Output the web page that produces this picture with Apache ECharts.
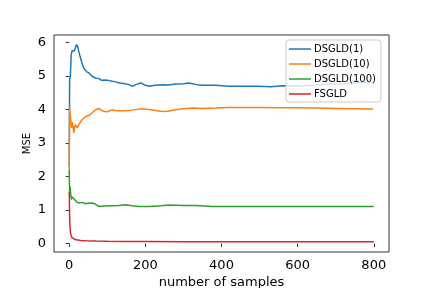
<!DOCTYPE html>
<html>
<head>
<meta charset="utf-8">
<script src="https://cdn.jsdelivr.net/npm/echarts@6/dist/echarts.min.js"></script>
<style>html,body{margin:0;padding:0;background:#fff}#c{width:432px;height:288px}</style>
</head>
<body>
<div id="c"></div>
<script>
var seriesNames = ['DSGLD(1)', 'DSGLD(10)', 'DSGLD(100)', 'FSGLD'];
var colors = ['#1f77b4', '#ff7f0e', '#2ca02c', '#d62728'];
var xTicks = [0, 200, 400, 600, 800];
var yTicks = [0, 1, 2, 3, 4, 5, 6];

var x1 = [0,1,3,5,7,9,11,13,15,17,19,21,23,25,28,31,35,38,42,46,52,56,60,65,70,78,85,90,96,105,113,120,131,140,148,157,166,175,188,198,210,225,245,260,280,300,315,335,350,385,420,455,495,530,561,600,650,700,750,800];
var y1 = [2.3,4.9,5.0,5.6,5.75,5.72,5.78,5.74,5.8,5.85,5.93,5.95,5.85,5.73,5.6,5.48,5.33,5.24,5.2,5.12,5.09,5.04,4.99,4.97,4.93,4.92,4.87,4.9,4.88,4.86,4.84,4.83,4.79,4.78,4.76,4.74,4.69,4.74,4.79,4.73,4.69,4.72,4.74,4.73,4.76,4.77,4.79,4.74,4.72,4.72,4.69,4.69,4.69,4.68,4.71,4.70,4.73,4.76,4.79,4.81];

var x10 = [0,1,2,4,6,8,10,12,14,16,18,21,25,30,34,38,45,52,56,60,65,69,74,78,83,87,93,100,107,113,120,131,148,165,183,201,215,227,240,254,265,280,300,324,350,385,420,460,500,550,600,649,700,750,798];
var y10 = [2.2,4.06,3.9,3.7,3.45,3.62,3.5,3.3,3.45,3.55,3.5,3.45,3.55,3.6,3.7,3.75,3.8,3.82,3.87,3.9,3.95,3.99,4.02,4.03,3.99,3.96,3.94,3.93,3.96,3.99,3.97,3.96,3.96,3.98,4.01,4.01,3.99,3.97,3.95,3.94,3.96,3.99,4.02,4.04,4.03,4.04,4.06,4.06,4.06,4.05,4.05,4.04,4.03,4.02,4.01];

var x100 = [0,1,2,3,4,6,7,9,11,13,15,18,21,25,29,34,38,43,50,55,60,68,78,90,100,113,130,148,165,183,210,240,262,300,333,377,420,508,600,700,800];
var y100 = [2.2,1.55,1.7,1.61,1.45,1.31,1.4,1.43,1.35,1.33,1.38,1.26,1.3,1.21,1.25,1.23,1.2,1.19,1.2,1.22,1.21,1.18,1.11,1.12,1.12,1.13,1.14,1.16,1.13,1.11,1.11,1.13,1.15,1.14,1.14,1.11,1.11,1.11,1.11,1.11,1.11];

var xF = [0,1,2,3,4,5,7,10,15,20,30,45,70,100,150,200,300,400,600,800];
var yF = [1.55,0.85,0.5,0.36,0.28,0.23,0.18,0.15,0.125,0.11,0.095,0.085,0.075,0.068,0.062,0.06,0.058,0.057,0.056,0.056];

function pairs(xs, ys){ return xs.map(function(x,i){ return [x, ys[i]]; }); }
var allX = [x1, x10, x100, xF];
var allY = [y1, y10, y100, yF];

var font = 'DejaVu Sans';
var chart = echarts.init(document.getElementById('c'), null, {renderer:'canvas'});
chart.setOption({
  animation: false,
  backgroundColor: '#fff',
  grid: {left: 54, right: 43, top: 35, bottom: 36, containLabel: false, outerBoundsMode: 'none',
         show: true, borderColor: '#000', borderWidth: 0.8, backgroundColor: 'transparent'},
  xAxis: {
    type: 'value', min: -40, max: 840,
    name: 'number of samples', nameLocation: 'middle', nameGap: 24, nameMoveOverlap: false,
    nameTextStyle: {fontFamily: font, fontSize: 13, color: '#000'},
    axisLine: {show: false},
    splitLine: {show: false},
    axisTick: {show: true, inside: false, length: 3.5, lineStyle: {color: '#000', width: 0.8}, customValues: xTicks},
    axisLabel: {fontFamily: font, fontSize: 13, color: '#000', margin: 7, customValues: xTicks}
  },
  yAxis: {
    type: 'value', min: -0.25, max: 6.22,
    name: 'MSE', nameLocation: 'middle', nameGap: 22, nameMoveOverlap: false,
    nameTextStyle: {fontFamily: font, fontSize: 10, color: '#000'},
    axisLine: {show: false},
    splitLine: {show: false},
    axisTick: {show: true, inside: false, length: 3.5, lineStyle: {color: '#000', width: 0.8}, customValues: yTicks},
    axisLabel: {fontFamily: font, fontSize: 13, color: '#000', margin: 8, customValues: yTicks}
  },
  legend: {
    orient: 'vertical', left: 286, top: 40,
    data: seriesNames,
    icon: 'path://M0,0M22,10M0,4.25h22v1.5h-22z',
    itemWidth: 22, itemHeight: 10, itemGap: 5,
    padding: [4, 5, 3, 3],
    backgroundColor: 'rgba(255,255,255,0.8)', borderColor: '#cccccc', borderWidth: 1, borderRadius: 3,
    textStyle: {fontFamily: font, fontSize: 10, color: '#000', padding: [0, 0, 0, -2]}
  },
  series: seriesNames.map(function(n, i){
    return {
      name: n, type: 'line', data: pairs(allX[i], allY[i]),
      symbol: 'none', showSymbol: false,
      lineStyle: {color: colors[i], width: 1.5},
      itemStyle: {color: colors[i]},
      z: 2
    };
  })
});
</script>
</body>
</html>
